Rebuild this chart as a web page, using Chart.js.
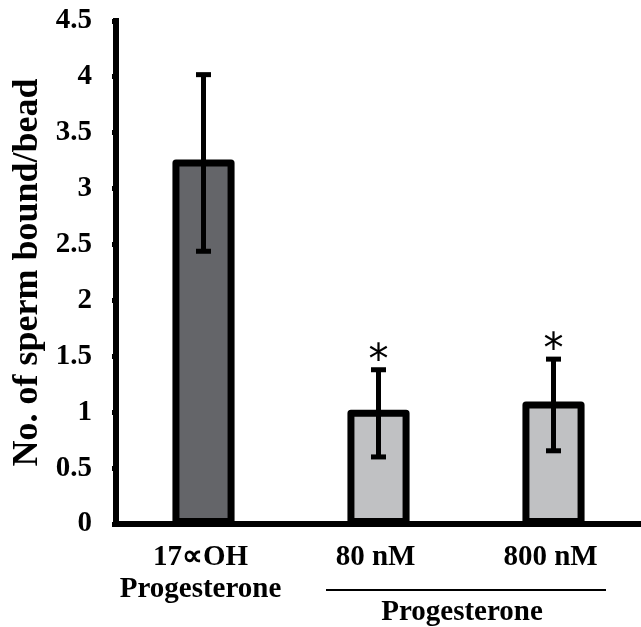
<!DOCTYPE html>
<html>
<head>
<meta charset="utf-8">
<script src="https://cdn.jsdelivr.net/npm/chart.js@4/dist/chart.umd.min.js"></script>
<style>
  html, body { margin: 0; padding: 0; background: #ffffff; overflow: hidden; }
  canvas { display: block; }
</style>
</head>
<body>
<canvas id="chart" width="641" height="627"></canvas>
<script>
// Sperm binding per bead for each treatment
const categories = [['17\u221DOH', 'Progesterone'], '80 nM', '800 nM'];
const meanBound = [3.23, 0.99, 1.065];
const errBound = [0.79, 0.39, 0.41];
const barColors = ['#646569', '#c0c1c3', '#c0c1c3'];
const significance = ['', '*', '*'];
const groupLabel = 'Progesterone';
const groupMembers = [1, 2];
const yTicks = [0, 0.5, 1, 1.5, 2, 2.5, 3, 3.5, 4, 4.5];
const yTitle = 'No. of sperm bound/bead';

const SERIF = "'Liberation Serif', 'Times New Roman', serif";

// Outline every bar with a stroke centred on its edges
const barOutline = {
  id: 'barOutline',
  afterDatasetsDraw(chart) {
    const ctx = chart.ctx;
    const meta = chart.getDatasetMeta(0);
    ctx.save();
    ctx.strokeStyle = '#000';
    ctx.lineWidth = 7;
    ctx.lineJoin = 'round';
    meta.data.forEach(el => {
      const w = el.width;
      ctx.strokeRect(el.x - w / 2, el.y, w, el.base - el.y);
    });
    ctx.restore();
  }
};

// Error bars and significance marks
const errorBars = {
  id: 'errorBars',
  afterDatasetsDraw(chart) {
    const ctx = chart.ctx;
    const y = chart.scales.y;
    const meta = chart.getDatasetMeta(0);
    ctx.save();
    ctx.strokeStyle = '#000';
    ctx.fillStyle = '#000';
    meta.data.forEach((el, i) => {
      const top = y.getPixelForValue(meanBound[i] + errBound[i]);
      const bot = y.getPixelForValue(meanBound[i] - errBound[i]);
      ctx.lineWidth = 5;
      ctx.beginPath();
      ctx.moveTo(el.x, top);
      ctx.lineTo(el.x, bot);
      ctx.stroke();
      ctx.fillRect(el.x - 7.5, top - 2.5, 15, 5);
      ctx.fillRect(el.x - 7.5, bot - 2.5, 15, 5);
      if (significance[i]) {
        ctx.font = "40px 'DejaVu Sans', sans-serif";
        ctx.textAlign = 'center';
        ctx.textBaseline = 'alphabetic';
        ctx.fillText(significance[i], el.x, top + 3);
      }
    });
    ctx.restore();
  }
};

// Grouping bracket beneath the progesterone doses
const groupBracket = {
  id: 'groupBracket',
  afterDraw(chart) {
    const ctx = chart.ctx;
    const x = chart.scales.x;
    const a = x.getPixelForValue(groupMembers[0]);
    const b = x.getPixelForValue(groupMembers[1]);
    const mid = (a + b) / 2;
    const half = (b - a) * 0.8;
    ctx.save();
    ctx.strokeStyle = '#000';
    ctx.lineWidth = 2;
    ctx.beginPath();
    ctx.moveTo(mid - half, 590);
    ctx.lineTo(mid + half, 590);
    ctx.stroke();
    ctx.fillStyle = '#000';
    ctx.font = 'bold 29px ' + SERIF;
    ctx.textAlign = 'center';
    ctx.textBaseline = 'middle';
    ctx.fillText(groupLabel, mid - 4, 613);
    ctx.restore();
  }
};

new Chart(document.getElementById('chart'), {
  type: 'bar',
  data: {
    labels: categories,
    datasets: [{
      data: meanBound,
      backgroundColor: barColors,
      borderWidth: 0,
      barPercentage: 0.315,
      categoryPercentage: 1
    }]
  },
  options: {
    responsive: false,
    animation: false,
    events: [],
    layout: { padding: { top: 21, left: 0, right: 0, bottom: 0 } },
    plugins: { legend: { display: false }, tooltip: { enabled: false } },
    scales: {
      x: {
        afterFit(s) {
          s.height = 103;
          s.paddingLeft = 0;
          s.paddingRight = 0;
        },
        grid: { display: false, drawTicks: false },
        border: { display: true, color: '#000', width: 6 },
        ticks: {
          color: '#000',
          font: { family: SERIF, size: 29, weight: 'bold', lineHeight: 1.12 },
          padding: 17,
          labelOffset: -3,
          maxRotation: 0,
          autoSkip: false
        }
      },
      y: {
        min: 0,
        max: 4.5,
        afterFit(s) {
          s.width = 116;
          s.paddingTop = 0;
          s.paddingBottom = 0;
        },
        afterBuildTicks(s) { s.ticks = yTicks.map(v => ({ value: v })); },
        grid: {
          drawOnChartArea: false,
          drawTicks: true,
          tickLength: 4,
          color: '#000',
          lineWidth: 5
        },
        border: { display: true, color: '#000', width: 6 },
        ticks: {
          color: '#000',
          font: { family: SERIF, size: 29, weight: 'bold' },
          padding: 20,
          callback: v => String(v)
        },
        title: {
          display: true,
          text: yTitle,
          color: '#000',
          font: { family: SERIF, size: 36, weight: 'bold' },
          padding: { top: 6, bottom: 0 }
        }
      }
    }
  },
  plugins: [barOutline, errorBars, groupBracket]
});
</script>
</body>
</html>
